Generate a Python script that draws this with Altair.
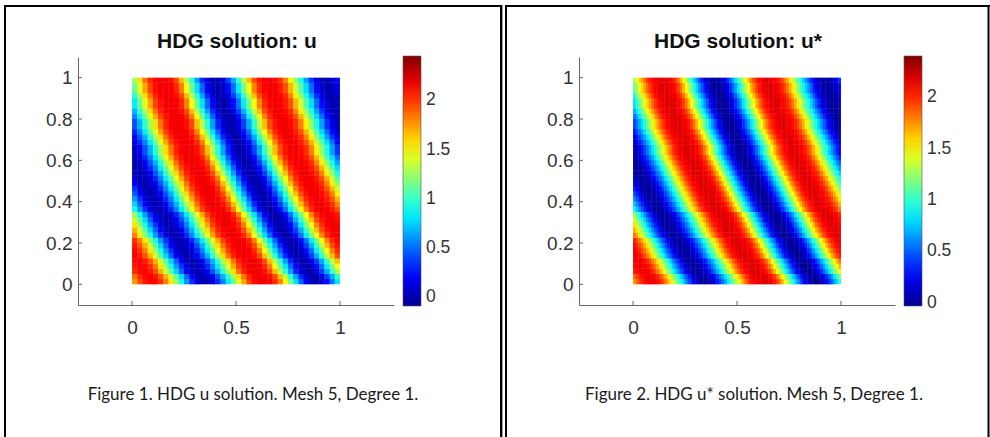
import altair as alt
import pandas as pd

# Solution value along the stripe coordinate s = 2x + y, sampled every 0.025 (s = 0 .. 3)
profile = [
    1.61, 1.74, 1.85, 1.94, 2.03, 2.08, 2.11, 2.14, 2.14, 2.12,
    2.08, 2.02, 1.93, 1.82, 1.69, 1.55, 1.39, 1.24, 1.08, 0.91,
    0.76, 0.61, 0.47, 0.35, 0.22, 0.13, 0.06, 0.02, 0.01, 0.02,
    0.06, 0.11, 0.19, 0.32, 0.43, 0.55, 0.67, 0.82, 0.97, 1.13,
    1.28, 1.43, 1.58, 1.72, 1.85, 1.97, 2.05, 2.10, 2.14, 2.16,
    2.17, 2.17, 2.16, 2.14, 2.10, 2.04, 1.95, 1.82, 1.66, 1.49,
    1.32, 1.14, 0.96, 0.79, 0.63, 0.48, 0.32, 0.20, 0.11, 0.04,
    0.00, -0.01, 0.01, 0.06, 0.14, 0.25, 0.38, 0.51, 0.66, 0.82,
    0.99, 1.16, 1.33, 1.49, 1.66, 1.81, 1.94, 2.03, 2.09, 2.13,
    2.16, 2.17, 2.16, 2.14, 2.11, 2.07, 2.02, 1.93, 1.81, 1.68,
    1.53, 1.38, 1.23, 1.07, 0.92, 0.78, 0.63, 0.50, 0.35, 0.24,
    0.15, 0.08, 0.03, 0.01, 0.01, 0.03, 0.08, 0.16, 0.25, 0.37,
    0.49,
]
# Bend of the stripes: per-row offset (in profile samples), bottom row first
row_shift = [0, 0, 1, 1, 1, 2, 2, 2, 2, 3, 3, 3, 3, 3, 4, 4, 4, 4, 4, 4,
             4, 4, 4, 4, 4, 4, 3, 3, 3, 3, 3, 2, 2, 2, 2, 1, 1, 1, 0, 0]

# Colour-bar ranges of the two solutions
u_range = [-0.09, 2.45]
ustar_range = [-0.03, 2.40]

x_ticks = [0, 0.5, 1]
y_ticks = [0, 0.2, 0.4, 0.6, 0.8, 1]
cbar_ticks = [0, 0.5, 1, 1.5, 2]

titles = ["HDG solution: u", "HDG solution: u*"]
captions = ["Figure 1. HDG u solution. Mesh 5, Degree 1.",
            "Figure 2. HDG u* solution. Mesh 5, Degree 1."]

JET_POS = [0, 1 / 8, 3 / 8, 5 / 8, 7 / 8, 1]
JET = ["#00008f", "#0000ff", "#00ffff", "#ffff00", "#ff0000", "#800000"]

W, H = 316, 248
AXIS_GREY = "#666666"
LABEL_GREY = "#333333"
OVERLAP = 0.002  # cells overlap their neighbours slightly so no seams show


def build_grid(nx, ny, col_mult):
    dx, dy = 1.0 / nx, 1.0 / ny
    rows = []
    for j in range(ny):
        for i in range(nx):
            k = col_mult * i + j + 1 + row_shift[j]
            rows.append({
                "x0": i * dx,
                "x1": (i + 1) * dx + (OVERLAP if i < nx - 1 else 0),
                "y0": j * dy,
                "y1": (j + 1) * dy + (OVERLAP if j < ny - 1 else 0),
                "val": profile[k]})
    return pd.DataFrame(rows)


def single_text(text, x, y, **kw):
    return alt.Chart(pd.DataFrame({"t": [text]})).mark_text(**kw).encode(
        text="t:N", x=alt.value(x), y=alt.value(y))


def box(x, x2, y, y2, color):
    return alt.Chart(pd.DataFrame({"k": [0]})).mark_rect(color=color).encode(
        x=alt.value(x), x2=alt.value(x2), y=alt.value(y), y2=alt.value(y2))


X_AXIS = alt.Axis(values=x_ticks, format="~g", title=None, grid=False,
                  ticks=False, tickSize=0, domainColor=AXIS_GREY, domainWidth=1,
                  labelFont="Liberation Sans", labelFontSize=19,
                  labelColor=LABEL_GREY, labelPadding=13, zindex=1)
Y_AXIS = alt.Axis(values=y_ticks, format="~g", title=None, grid=False,
                  ticks=False, tickSize=0, domainColor=AXIS_GREY, domainWidth=1,
                  labelFont="Liberation Sans", labelFontSize=19,
                  labelColor=LABEL_GREY, labelPadding=6, zindex=1)


def panel(df, rng, title, caption, decorations=()):
    lo, hi = rng
    stops = [lo + p * (hi - lo) for p in JET_POS]
    cscale = alt.Scale(domain=stops, range=JET, clamp=True, interpolate="rgb")
    xs = alt.Scale(domain=[-0.26, 1.26], nice=False, zero=False)
    ys = alt.Scale(domain=[-0.1, 1.1], nice=False, zero=False)

    heat = alt.Chart(df).mark_rect().encode(
        x=alt.X("x0:Q", scale=xs, axis=X_AXIS),
        x2="x1",
        y=alt.Y("y0:Q", scale=ys, axis=Y_AXIS),
        y2="y1",
        color=alt.Color("val:Q", scale=cscale, legend=alt.Legend(
            type="gradient", orient="none", legendX=325, legendY=-1,
            direction="vertical", title=None, gradientLength=250,
            gradientThickness=18, values=cbar_ticks, format="~g",
            labelFont="Liberation Sans", labelFontSize=17.5,
            labelColor=LABEL_GREY, labelOffset=5, labelOverlap=False,
            padding=0, gradientStrokeColor="#555555",
            gradientStrokeWidth=0.6)),
    )

    # inward tick marks on both axes
    xt = alt.Chart(pd.DataFrame({"x0": x_ticks})).mark_rule(
        color=AXIS_GREY, strokeWidth=1).encode(
        x=alt.X("x0:Q", scale=xs, axis=X_AXIS),
        y=alt.value(H), y2=alt.value(H - 4))
    yt = alt.Chart(pd.DataFrame({"y0": y_ticks})).mark_rule(
        color=AXIS_GREY, strokeWidth=1).encode(
        y=alt.Y("y0:Q", scale=ys, axis=Y_AXIS),
        x=alt.value(0), x2=alt.value(4))

    head = single_text(title, 159, -9, font="Liberation Sans", fontSize=21,
                       fontWeight="bold", color="#111111", align="center",
                       baseline="alphabetic")
    foot = single_text(caption, 175, 343, font="Lato", fontSize=17,
                       color="#1a1a1a", align="center", baseline="alphabetic")

    layers = list(decorations) + [heat, xt, yt, head, foot]
    return alt.layer(*layers).properties(width=W, height=H)


# page frame (drawn from the first panel's origin)
frame = [
    box(-78, 912, -57, 380, "#ffffff"),
    box(-74, 424, -52, -50, "#000000"),
    box(427, 912, -52, -50, "#000000"),
    box(-74, -72, -52, 380, "#000000"),
    box(422, 424, -52, 380, "#000000"),
    box(424, 425, -52, 380, "#9a9a9a"),
    box(427, 429, -52, 380, "#000000"),
    box(909.5, 911.5, -52, 380, "#000000"),
]

left = panel(build_grid(40, 40, 2), u_range, titles[0], captions[0], frame)
right = panel(build_grid(80, 40, 1), ustar_range, titles[1], captions[1])

chart = alt.hconcat(left, right, spacing=185, bounds="flush").resolve_scale(
    color="independent", x="independent", y="independent").resolve_legend(
    color="independent").configure_view(stroke=None).properties(
    padding=0, background="white")

chart.save("out.html", embed_options={"renderer": "svg", "actions": False})
